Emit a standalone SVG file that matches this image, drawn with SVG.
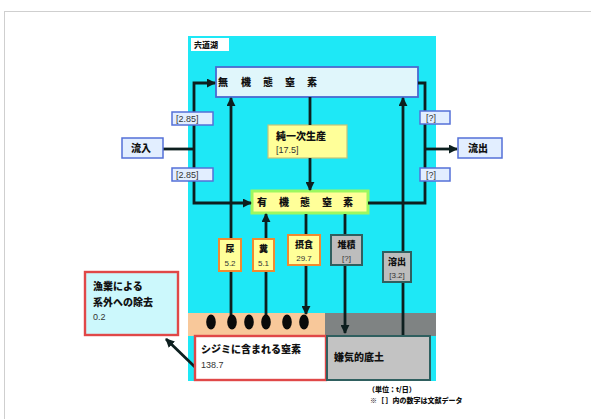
<svg xmlns="http://www.w3.org/2000/svg" width="591" height="419" viewBox="0 0 591 419">
<defs>
<style>
.t{font-family:"Noto Sans CJK JP","Liberation Sans",sans-serif;font-weight:900;fill:#111}
.n{font-family:"Liberation Sans",sans-serif;fill:#333}
.ln{stroke:#0d1f1f;stroke-width:2.8;fill:none}
.lbl{fill:#e2eeff;stroke:#5470d8;stroke-width:1.5}
.sm{fill:#ffff99;stroke:#f08a30;stroke-width:2}
.gr{fill:#bdbdbd;stroke:#2f5f5f;stroke-width:2}
</style>
<marker id="ah" viewBox="0 0 10 10" refX="9" refY="5" markerWidth="9" markerHeight="9" markerUnits="userSpaceOnUse" orient="auto">
<path d="M0,0L10,5L0,10z" fill="#0d1f1f"/>
</marker>
</defs>
<rect x="0" y="0" width="591" height="419" fill="#fff"/>
<rect x="4.5" y="11.5" width="600" height="420" fill="none" stroke="#cfcfcf" stroke-width="1"/>
<g id="lake">
<rect x="188" y="36" width="248" height="345" fill="#1ee8f6"/>
<rect x="191" y="38" width="38" height="13" fill="#fff"/>
<text class="t" x="194" y="48" font-size="8">宍道湖</text>
</g>
<g id="bands">
<rect x="188" y="313" width="137" height="23" fill="#f8c89a"/>
<rect x="325" y="313" width="111" height="23" fill="#7f8383"/>
</g>
<g id="inorganic">
<rect x="216" y="67" width="202" height="30" fill="#e0f6fb" stroke="#4a6ad0" stroke-width="1.8"/>
<text class="t" font-size="10" text-anchor="middle" x="223 246 268 290 312" y="86">無機態窒素</text>
</g>
<g id="primary">
<rect x="268" y="125" width="79" height="33" fill="#ffff99" stroke="#c4c47a" stroke-width="1.2"/>
<text class="t" x="276" y="140" font-size="10">純一次生産</text>
<text class="n" x="276" y="153" font-size="9">[17.5]</text>
</g>
<g id="organic">
<rect x="252" y="191" width="116" height="22" fill="#ffff99" stroke="#9cf860" stroke-width="3"/>
<text class="t" font-size="10" text-anchor="middle" x="262 284 305 327 348" y="206">有機態窒素</text>
</g>
<g id="connectors">
<path class="ln" d="M163,149H194"/>
<path class="ln" d="M194,149V83H215" marker-end="url(#ah)"/>
<path class="ln" d="M194,149V203H251" marker-end="url(#ah)"/>
<path class="ln" d="M418,83H425V203H368"/>
<path class="ln" d="M425,149H457" marker-end="url(#ah)"/>
<path class="ln" d="M310,97V125"/>
<path class="ln" d="M310,158V190" marker-end="url(#ah)"/>
<path class="ln" d="M231,316V98" marker-end="url(#ah)"/>
<path class="ln" d="M266,316V214" marker-end="url(#ah)"/>
<path class="ln" d="M306,214V314" marker-end="url(#ah)"/>
<path class="ln" d="M345,214V333" marker-end="url(#ah)"/>
<path class="ln" d="M403,336V98" marker-end="url(#ah)"/>
<path class="ln" d="M196,368L166,339" marker-end="url(#ah)"/>
</g>
<g id="inflow">
<rect class="lbl" x="122" y="138" width="41" height="20"/>
<text class="t" x="131" y="152" font-size="10">流入</text>
</g>
<g id="outflow">
<rect class="lbl" x="458" y="138" width="44" height="20"/>
<text class="t" x="468" y="152" font-size="10">流出</text>
</g>
<g id="v-in1">
<rect class="lbl" x="172" y="112" width="41" height="13"/>
<text class="n" x="176" y="122" font-size="9">[2.85]</text>
</g>
<g id="v-in2">
<rect class="lbl" x="172" y="168" width="41" height="13"/>
<text class="n" x="176" y="178" font-size="9">[2.85]</text>
</g>
<g id="v-out1">
<rect class="lbl" x="420" y="111" width="30" height="13"/>
<text class="n" x="426" y="121" font-size="9">[?]</text>
</g>
<g id="v-out2">
<rect class="lbl" x="420" y="168" width="30" height="13"/>
<text class="n" x="426" y="178" font-size="9">[?]</text>
</g>
<g id="b-urine">
<rect class="sm" x="219" y="239" width="22" height="32"/>
<text class="t" x="230" y="252" font-size="9" text-anchor="middle">尿</text>
<text class="n" x="230" y="266" font-size="8" text-anchor="middle">5.2</text>
</g>
<g id="b-feces">
<rect class="sm" x="253" y="239" width="21" height="32"/>
<text class="t" x="263.5" y="252" font-size="9" text-anchor="middle">糞</text>
<text class="n" x="263.5" y="266" font-size="8" text-anchor="middle">5.1</text>
</g>
<g id="b-feed">
<rect class="sm" x="288" y="235" width="32" height="30"/>
<text class="t" x="304" y="248" font-size="9" text-anchor="middle">摂食</text>
<text class="n" x="304" y="261" font-size="8" text-anchor="middle">29.7</text>
</g>
<g id="b-deposit">
<rect class="gr" x="331" y="235" width="31" height="30"/>
<text class="t" x="346.5" y="248" font-size="9" text-anchor="middle">堆積</text>
<text class="n" x="346.5" y="261" font-size="8" text-anchor="middle">[?]</text>
</g>
<g id="b-release">
<rect class="gr" x="383" y="252" width="28" height="30"/>
<text class="t" x="397" y="265" font-size="9" text-anchor="middle">溶出</text>
<text class="n" x="397" y="278" font-size="8" text-anchor="middle">[3.2]</text>
</g>
<g id="clams" fill="#0a0a0a">
<ellipse cx="211" cy="322" rx="4.8" ry="7.5"/>
<ellipse cx="232" cy="322" rx="4.8" ry="7.5"/>
<ellipse cx="249" cy="322" rx="4.8" ry="7.5"/>
<ellipse cx="266" cy="322" rx="4.8" ry="7.5"/>
<ellipse cx="287" cy="322" rx="4.8" ry="7.5"/>
<ellipse cx="304" cy="322" rx="4.8" ry="7.5"/>
</g>
<g id="shijimi">
<rect x="195" y="336" width="131" height="44" fill="#fff" stroke="#e04848" stroke-width="2.4"/>
<text class="t" x="201" y="353" font-size="10">シジミに含まれる窒素</text>
<text class="n" x="201" y="368" font-size="9">138.7</text>
</g>
<g id="sediment">
<rect x="327" y="336" width="103" height="44" fill="#c3c3c3" stroke="#2f5f5f" stroke-width="2"/>
<text class="t" x="334" y="361" font-size="10">嫌気的底土</text>
</g>
<g id="fishery">
<rect x="85" y="272" width="93" height="63" fill="#ccf8fc" stroke="#e04848" stroke-width="2.4"/>
<text class="t" x="93" y="290" font-size="10">漁業による</text>
<text class="t" x="93" y="306" font-size="10">系外への除去</text>
<text class="n" x="93" y="320" font-size="9">0.2</text>
</g>
<g id="note">
<text class="t" x="368" y="392" font-size="7" font-weight="normal" fill="#333">（単位：t/日）</text>
<text class="t" x="370" y="403" font-size="7" fill="#333">※［ ］内の数字は文献データ</text>
</g>
</svg>
